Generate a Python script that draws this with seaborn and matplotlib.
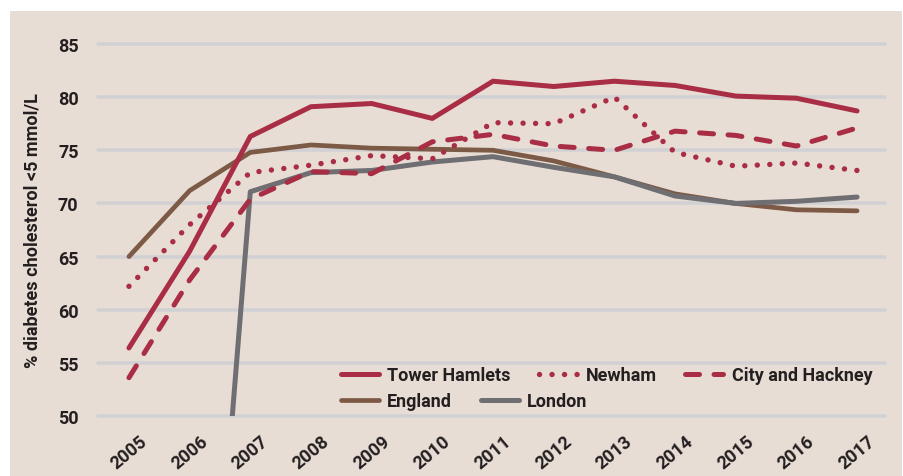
import matplotlib
matplotlib.use("Agg")
import matplotlib.pyplot as plt
import seaborn as sns
import pandas as pd
from matplotlib.patches import Rectangle
from matplotlib.lines import Line2D

years = [2005, 2006, 2007, 2008, 2009, 2010, 2011, 2012, 2013, 2014, 2015, 2016, 2017]
tower_hamlets = [56.4, 65.5, 76.3, 79.1, 79.4, 78.0, 81.5, 81.0, 81.5, 81.1, 80.1, 79.9, 78.7]
newham = [62.2, 68.0, 72.9, 73.6, 74.5, 74.2, 77.6, 77.5, 80.0, 74.8, 73.5, 73.8, 73.1]
city_hackney = [53.6, 62.8, 70.4, 73.0, 72.8, 75.8, 76.5, 75.4, 75.0, 76.8, 76.4, 75.4, 77.1]
england = [65.0, 71.2, 74.8, 75.5, 75.2, 75.1, 75.0, 74.0, 72.5, 70.9, 70.0, 69.4, 69.3]
london = [0.0, 0.0, 71.1, 72.9, 73.1, 73.9, 74.4, 73.4, 72.5, 70.7, 70.0, 70.2, 70.6]
yticks = [50, 55, 60, 65, 70, 75, 80, 85]
ylabel = "% diabetes cholesterol <5 mmol/L"

RED = "#A92D44"
BROWN = "#7C5A45"
GREY = "#6F6E72"
BG = "#E8DDD4"
GRID = "#D1D1D3"
TXT = "#231F20"

sns.set_theme(style="white")
plt.rcParams["font.family"] = ["Roboto", "DejaVu Sans"]

W, H = 904, 477
fig = plt.figure(figsize=(W / 100, H / 100), dpi=100, facecolor="white")
bgrect = Rectangle((10 / W, 0), (902 - 10) / W, (477 - 12) / H,
                   transform=fig.transFigure, facecolor=BG, edgecolor="none", zorder=-10)
fig.patches.append(bgrect)

ax = fig.add_axes([98 / W, (477 - 417) / H, (885 - 98) / W, (417 - 45) / H])
ax.set_facecolor("none")
ax.set_zorder(1)

df = pd.DataFrame({"year": years, "Tower Hamlets": tower_hamlets, "Newham": newham,
                   "City and Hackney": city_hackney, "England": england, "London": london})

styles = {
    "England": dict(color=BROWN, ls="-", lw=3.4),
    "London": dict(color=GREY, ls="-", lw=3.6),
    "City and Hackney": dict(color=RED, ls=(0, (2.8, 2.9)), lw=3.6),
    "Newham": dict(color=RED, ls=(0, (0.01, 2.3)), lw=3.9),
    "Tower Hamlets": dict(color=RED, ls="-", lw=3.6),
}
for name in ["England", "London", "City and Hackney", "Newham", "Tower Hamlets"]:
    st = styles[name]
    sns.lineplot(data=df, x="year", y=name, ax=ax, color=st["color"], linestyle=st["ls"],
                 linewidth=st["lw"], solid_capstyle="round", dash_capstyle="round", legend=False)

FS = 13
ax.set_xlim(2004.49, 2017.46)
ax.set_ylim(50, 85)
ax.set_yticks(yticks)
ax.set_xticks(years)
ax.set_yticklabels([str(v) for v in yticks], fontsize=FS, fontweight="bold", color=TXT)
ax.set_xticklabels([str(y) for y in years], fontsize=FS, fontweight="bold", color=TXT,
                   rotation=40)
ax.tick_params(axis="y", length=0, pad=14)
ax.tick_params(axis="x", length=0, pad=11)
ax.grid(axis="y", color=GRID, linewidth=2.6, clip_on=False, zorder=0)
ax.grid(axis="x", visible=False)
ax.set_axisbelow(True)
for s in ax.spines.values():
    s.set_visible(False)
ax.set_xlabel("")
ax.set_ylabel(ylabel, fontsize=FS, fontweight="bold", color=TXT, labelpad=12)

def handle(name):
    st = styles[name]
    return Line2D([0], [0], color=st["color"], linestyle=st["ls"], linewidth=st["lw"],
                  solid_capstyle="round", dash_capstyle="round")

legkw = dict(frameon=False, handlelength=2.1, handletextpad=0.45,
             columnspacing=1.6, borderpad=0, borderaxespad=0, loc="center left",
             bbox_transform=fig.transFigure, prop=dict(weight="bold", size=FS))
row1 = ["Tower Hamlets", "Newham", "City and Hackney"]
row2 = ["England", "London"]
l1 = ax.legend([handle(n) for n in row1], row1, ncol=3,
               bbox_to_anchor=(341 / W, (477 - 376) / H), **legkw)
for t in l1.get_texts():
    t.set_color(TXT)
ax.add_artist(l1)
l2 = ax.legend([handle(n) for n in row2], row2, ncol=2,
               bbox_to_anchor=(341 / W, (477 - 402) / H), **legkw)
for t in l2.get_texts():
    t.set_color(TXT)

fig.savefig("out.png", dpi=100, facecolor="white")
